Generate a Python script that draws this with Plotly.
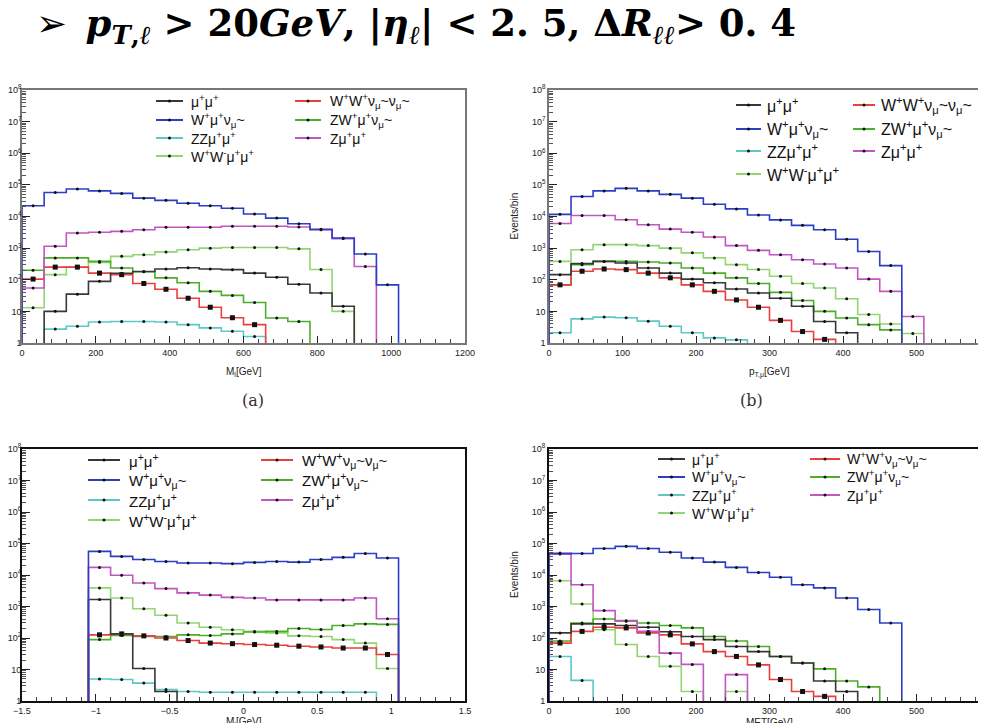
import plotly.graph_objects as go

FIG_W, FIG_H = 986, 723

# ---------------- series metadata ----------------
legend_labels = [
    "μ<sup>+</sup>μ<sup>+</sup>",
    "W<sup>+</sup>μ<sup>+</sup>ν<sub>μ</sub>~",
    "ZZμ<sup>+</sup>μ<sup>+</sup>",
    "W<sup>+</sup>W<sup>-</sup>μ<sup>+</sup>μ<sup>+</sup>",
    "W<sup>+</sup>W<sup>+</sup>ν<sub>μ</sub>~ν<sub>μ</sub>~",
    "ZW<sup>+</sup>μ<sup>+</sup>ν<sub>μ</sub>~",
    "Zμ<sup>+</sup>μ<sup>+</sup>",
]
series_colors = ["#383838", "#2b3fc4", "#5cc8c8", "#92d672", "#e8403c", "#4caf2a", "#c455c4"]

# ---------------- panel (a): M_l [GeV], 60 GeV bins ----------------
a_edges = [0, 60, 120, 180, 240, 300, 360, 420, 480, 540, 600, 660, 720, 780, 840, 900, 960, 1020, 1080, 1140, 1200]
a_mumu   = [0, 10, 35, 89, 160, 182, 219, 240, 219, 209, 162, 120, 72, 38, 14.5]
a_wmunu  = [21900, 57500, 74100, 64600, 53700, 38000, 32400, 26300, 21900, 18200, 12000, 8900, 5900, 3800, 2090, 650, 69]
a_zz     = [0, 2.75, 3.4, 4.6, 4.8, 4.8, 4.6, 3.8, 3.0, 2.35, 1.6]
a_wwmumu = [13, 145, 250, 355, 550, 620, 760, 890, 1000, 1050, 1050, 1050, 950, 210, 10]
a_wwnunu = [105, 251, 251, 162, 145, 76, 50, 26, 13.5, 6.3, 3.8]
a_zwmunu = [200, 490, 490, 380, 235, 180, 115, 80, 43, 32, 19, 6.2, 4.8]
a_zmumu  = [55, 1150, 3020, 3160, 3390, 3800, 4570, 4570, 4570, 4900, 4900, 4900, 4680, 3980, 2000, 263]

# ---------------- panel (b): p_T,mu [GeV], 30 GeV bins ----------------
b_edges = [0, 30, 60, 90, 120, 150, 180, 210, 240, 270, 300, 330, 360, 390, 420, 450, 480, 510, 540, 570, 600]
b_mumu   = [145, 324, 380, 340, 234, 162, 105, 80, 51, 38, 26, 14.5, 4.8, 2.1]
b_wmunu  = [11700, 42700, 64600, 77600, 64600, 50100, 38000, 24500, 17400, 11200, 7800, 5250, 3800, 1900, 780, 280]
b_zz     = [2.1, 5.8, 6.6, 6.3, 4.9, 3.4, 2.1, 1.45, 1.26]
b_wwmumu = [380, 890, 1290, 1290, 1200, 1000, 710, 490, 300, 210, 129, 76, 55, 25, 8, 4, 2]
b_wwnunu = [69, 186, 219, 209, 162, 115, 69, 43, 23, 13.5, 5.2, 2.3, 1.3]
b_zwmunu = [69, 300, 380, 380, 363, 340, 234, 162, 115, 76, 40, 22, 10, 6.2, 3.8, 2.6]
b_zmumu  = [6000, 10700, 10700, 7900, 5500, 4000, 3160, 2240, 1200, 850, 620, 430, 316, 234, 105, 43, 6.9]

# ---------------- panel (c): bins of 0.15 ----------------
c_edges = [-1.05, -0.9, -0.75, -0.6, -0.45, -0.3, -0.15, 0.0, 0.15, 0.3, 0.45, 0.6, 0.75, 0.9, 1.05]
c_mumu   = [1660, 135, 10.7, 2]
c_wmunu  = [56200, 38900, 30900, 26900, 24000, 24000, 22900, 25100, 26900, 25700, 30900, 36300, 47900, 34700]
c_zz     = [5, 4.8, 3.7, 2.3, 2.0, 1.9, 1.9, 1.9, 1.9, 1.9, 1.9, 1.9, 1.9]
c_wwmumu = [3900, 1860, 850, 525, 300, 219, 182, 162, 145, 117, 112, 89, 69, 10.7]
c_wwnunu = [126, 135, 117, 100, 83, 69, 66, 62, 59, 55, 52, 48, 48, 30]
c_zwmunu = [89, 120, 112, 112, 126, 120, 135, 155, 162, 200, 186, 250, 280, 270]
c_zmumu  = [17400, 9800, 5600, 3700, 2700, 2300, 1950, 1860, 1620, 1620, 1620, 1620, 1860, 410]

# ---------------- panel (d): MET [GeV], 30 GeV bins ----------------
d_edges = [0, 30, 60, 90, 120, 150, 180, 210, 240, 270, 300, 330, 360, 390, 420, 450, 480, 510, 540, 570, 600]
d_mumu   = [145, 280, 280, 250, 219, 158, 112, 89, 54, 37, 26, 16, 4.3, 2]
d_wmunu  = [46800, 47900, 69200, 81300, 69200, 52500, 34700, 25700, 17400, 12000, 8500, 4900, 3900, 1860, 800, 300]
d_zz     = [26, 4.5]
d_wwmumu = [6600, 1200, 182, 62, 26, 12.6, 2.0, 0, 2.0]
d_wwnunu = [69, 162, 219, 209, 145, 126, 65, 37, 26, 14, 4.8, 2.0, 1.4]
d_zwmunu = [80, 300, 400, 340, 300, 250, 210, 112, 80, 54, 26, 16, 10.5, 4.3, 2.8]
d_zmumu  = [50100, 4900, 740, 355, 162, 33, 14.5, 0, 6.9]

# ---------------- axis / tick labels ----------------
y_tickvals = [1, 10, 100, 1e3, 1e4, 1e5, 1e6, 1e7, 1e8]
y_ticktext = ["1", "10", "10<sup>2</sup>", "10<sup>3</sup>", "10<sup>4</sup>", "10<sup>5</sup>",
              "10<sup>6</sup>", "10<sup>7</sup>", "10<sup>8</sup>"]
x_titles = ["M<sub>l</sub>[GeV]", "p<sub>T,μ</sub>[GeV]", "M<sub>l</sub>[GeV]", "MET[GeV]"]

FLOOR = 0.05  # below axis bottom -> drawn as drop to the frame


def px_x(v):
    return v / FIG_W


def px_y(v):
    return 1 - v / FIG_H


panels = [
    dict(edges=a_edges, data=[a_mumu, a_wmunu, a_zz, a_wwmumu, a_wwnunu, a_zwmunu, a_zmumu],
         dom_x=(14, 457), dom_y=(82, 335), xr=[0, 1200], dt=200, mdt=40,
         frame="#777777", fw=1.5, ytitle=False, edge_label=None, ystand=-3,
         leg=dict(cols=[(148, 175, 181), (287, 313, 320)], rows=[93, 112, 130, 148], fs=14),
         xt_y=364),
    dict(edges=b_edges, data=[b_mumu, b_wmunu, b_zz, b_wwmumu, b_wwnunu, b_zwmunu, b_zmumu],
         dom_x=(541, 982), dom_y=(82, 335), xr=[0, 600], dt=100, mdt=20,
         frame="#777777", fw=1.5, ytitle=True, edge_label="600", ystand=0,
         leg=dict(cols=[(728, 753, 757), (845, 867, 871)], rows=[97, 121, 143, 166], fs=16),
         xt_y=364),
    dict(edges=c_edges, data=[c_mumu, c_wmunu, c_zz, c_wwmumu, c_wwnunu, c_zwmunu, c_zmumu],
         dom_x=(14, 457), dom_y=(441, 693), xr=[-1.5, 1.5], dt=0.5, mdt=0.1,
         frame="#111111", fw=2, ytitle=False, edge_label=None, ystand=-3,
         leg=dict(cols=[(80, 112, 119), (253, 285, 292)], rows=[452, 472, 492, 512], fs=15),
         xt_y=714),
    dict(edges=d_edges, data=[d_mumu, d_wmunu, d_zz, d_wwmumu, d_wwnunu, d_zwmunu, d_zmumu],
         dom_x=(541, 982), dom_y=(441, 693), xr=[0, 600], dt=100, mdt=20,
         frame="#111111", fw=2, ytitle=True, edge_label="600", ystand=0,
         leg=dict(cols=[(650, 677, 682), (802, 832, 837)], rows=[451, 469, 487, 505], fs=14),
         xt_y=714),
]

draw_order = [2, 3, 5, 4, 0, 6, 1]

fig = go.Figure()
shapes = []
annotations = []

minor_vals = [k * 10 ** d for d in range(8) for k in range(2, 10)]

for pi, p in enumerate(panels):
    sfx = "" if pi == 0 else str(pi + 1)
    xref, yref = "x" + sfx, "y" + sfx
    edges = p["edges"]
    for si in draw_order:
        vals = p["data"][si]
        n = len(vals)
        xs = [edges[0]] + edges[:n] + [edges[n], edges[n]]
        ys = [FLOOR] + [v if v > 0 else FLOOR for v in vals] + [vals[-1] if vals[-1] > 0 else FLOOR, FLOOR]
        fig.add_trace(go.Scatter(
            x=xs, y=ys, mode="lines", line=dict(color=series_colors[si], width=1.6, shape="hv"),
            xaxis=xref, yaxis=yref, showlegend=False, hoverinfo="skip"))
        cx = [(edges[i] + edges[i + 1]) / 2 for i in range(n) if vals[i] > 0]
        cy = [vals[i] for i in range(n) if vals[i] > 0]
        fig.add_trace(go.Scatter(
            x=cx, y=cy, mode="markers",
            marker=dict(color="#111111", size=5 if si == 4 else 3,
                        symbol="square" if si == 4 else "circle"),
            xaxis=xref, yaxis=yref, showlegend=False, hoverinfo="skip", cliponaxis=True))

    xa = dict(domain=[px_x(p["dom_x"][0]), px_x(p["dom_x"][1])], range=p["xr"], automargin=False,
              ticklabeloverflow="allow",
              anchor=yref, showline=True, mirror=True, linecolor=p["frame"], linewidth=p["fw"],
              ticks="inside", ticklen=7, tickcolor="#222", dtick=p["dt"], tick0=0,
              minor=dict(ticks="inside", ticklen=4, dtick=p["mdt"], tickcolor="#444", showgrid=False),
              showgrid=False, zeroline=False,
              tickfont=dict(family="Liberation Sans", size=9, color="#222"))
    ya = dict(domain=[px_y(p["dom_y"][1]), px_y(p["dom_y"][0])], type="log", range=[0, 8],
              automargin=False, ticklabeloverflow="allow", ticklabelstandoff=p["ystand"],
              anchor=xref, showline=True, mirror=True, linecolor=p["frame"], linewidth=p["fw"],
              ticks="inside", ticklen=8, tickcolor="#222",
              tickvals=y_tickvals, ticktext=y_ticktext,
              minor=dict(ticks="inside", ticklen=4, tickvals=minor_vals, tickcolor="#555", showgrid=False),
              showgrid=False, zeroline=False,
              tickfont=dict(family="Liberation Sans", size=9, color="#222"))
    fig.update_layout(**{"xaxis" + sfx: xa, "yaxis" + sfx: ya})

    # last x tick label at the right frame edge (cut by the page edge, as in the original)
    if p["edge_label"]:
        annotations.append(dict(x=px_x(p["dom_x"][1]), y=px_y(p["dom_y"][1] + 3),
                                xref="paper", yref="paper",
                                text=p["edge_label"], showarrow=False, xanchor="center", yanchor="top",
                                font=dict(family="Liberation Sans", size=9, color="#222")))

    # x-axis title
    cxp = (p["dom_x"][0] + p["dom_x"][1]) / 2
    annotations.append(dict(x=px_x(cxp), y=px_y(p["xt_y"]), xref="paper", yref="paper",
                            text=x_titles[pi], showarrow=False, xanchor="center", yanchor="middle",
                            font=dict(family="Liberation Sans", size=10, color="#222")))
    # y-axis title (only visible on the right-hand panels)
    if p["ytitle"]:
        cyp = (p["dom_y"][0] + p["dom_y"][1]) / 2
        annotations.append(dict(x=px_x(p["dom_x"][0] - 35), y=px_y(cyp), xref="paper", yref="paper",
                                text="Events/bin", showarrow=False, textangle=-90,
                                xanchor="center", yanchor="middle",
                                font=dict(family="Liberation Sans", size=10, color="#222")))

    # legend
    lg = p["leg"]
    entries = [(0, 0, 0), (0, 1, 1), (0, 2, 2), (0, 3, 3), (1, 0, 4), (1, 1, 5), (1, 2, 6)]
    for col, row, si in entries:
        x0, x1, xt = lg["cols"][col]
        yy = lg["rows"][row]
        shapes.append(dict(type="line", xref="paper", yref="paper",
                           x0=px_x(x0), x1=px_x(x1), y0=px_y(yy), y1=px_y(yy),
                           line=dict(color=series_colors[si], width=2)))
        mx = (x0 + x1) / 2
        shapes.append(dict(type="circle", xref="paper", yref="paper",
                           x0=px_x(mx - 1.5), x1=px_x(mx + 1.5), y0=px_y(yy + 1.5), y1=px_y(yy - 1.5),
                           fillcolor="#111", line=dict(width=0)))
        annotations.append(dict(x=px_x(xt), y=px_y(yy), xref="paper", yref="paper",
                                text=legend_labels[si], showarrow=False, xanchor="left", yanchor="middle",
                                font=dict(family="Liberation Sans", size=lg["fs"], color="#111")))

# sub-figure captions
annotations.append(dict(x=px_x(232), y=px_y(392), xref="paper", yref="paper", text="(a)",
                        showarrow=False, font=dict(family="DejaVu Serif", size=16, color="#333")))
annotations.append(dict(x=px_x(757), y=px_y(392), xref="paper", yref="paper", text="(b)",
                        showarrow=False, font=dict(family="DejaVu Serif", size=16, color="#333")))

# slide title
annotations.append(dict(
    x=px_x(26), y=px_y(17), xref="paper", yref="paper", xanchor="left", yanchor="middle",
    text=("➢&#8194;<b><i>p</i><sub><i>T</i>,<i>ℓ</i></sub> &gt; 20<i>GeV</i>, "
          "|<i>η</i><sub><i>ℓ</i></sub>| &lt; 2. 5, Δ<i>R</i><sub><i>ℓℓ</i></sub>&gt; 0. 4</b>"),
    showarrow=False, font=dict(family="DejaVu Serif", size=37, color="#000")))

fig.update_layout(width=FIG_W, height=FIG_H, margin=dict(l=0, r=0, t=0, b=0),
                  paper_bgcolor="white", plot_bgcolor="white",
                  shapes=shapes, annotations=annotations, showlegend=False)

fig.write_html("out.html")
